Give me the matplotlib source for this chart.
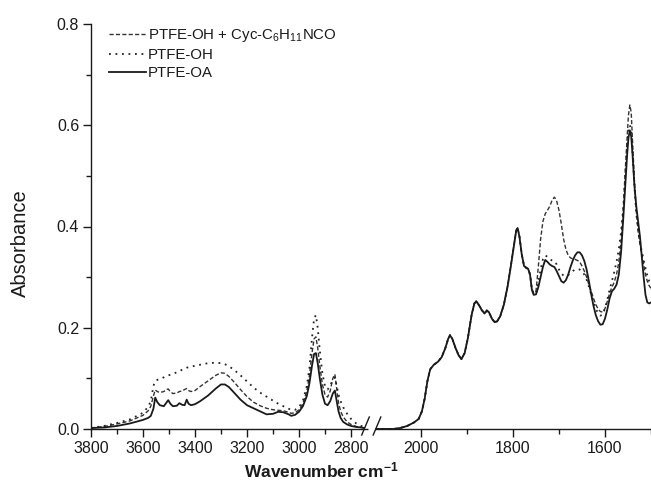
import numpy as np
import matplotlib
matplotlib.use("Agg")
import matplotlib.pyplot as plt
from matplotlib.ticker import FixedLocator, FixedFormatter

plt.rcParams['font.family'] = ['Liberation Sans', 'DejaVu Sans']
plt.rcParams['mathtext.fontset'] = 'custom'
plt.rcParams['mathtext.rm'] = 'Liberation Sans'
plt.rcParams['mathtext.it'] = 'Liberation Sans:italic'
plt.rcParams['mathtext.bf'] = 'Liberation Sans:bold'

# ---------------- data ----------------
series_labels = ["PTFE-OH + Cyc-C$_{\\mathregular{6}}$H$_{\\mathregular{11}}$NCO", "PTFE-OH", "PTFE-OA"]

wn_left = [3800, 3750, 3700, 3650, 3600, 3580, 3570, 3560, 3553, 3545, 3535, 3520, 3510, 3503,
           3495, 3485, 3470, 3460, 3450, 3440, 3432, 3425, 3415, 3400, 3380, 3350, 3320, 3300,
           3285, 3270, 3250, 3225, 3200, 3175, 3150, 3125, 3100, 3080, 3060, 3040, 3030, 3015,
           3000, 2985, 2970, 2960, 2950, 2942, 2935, 2928, 2920, 2910, 2900, 2890, 2880, 2870,
           2862, 2855, 2848, 2840, 2830, 2815, 2800, 2780, 2760, 2745]

oa_left = [0.002, 0.003, 0.006, 0.011, 0.018, 0.022, 0.026, 0.040, 0.062, 0.053, 0.047, 0.045, 0.052, 0.057,
           0.050, 0.045, 0.046, 0.051, 0.048, 0.047, 0.058, 0.050, 0.047, 0.049, 0.055, 0.066, 0.080, 0.088,
           0.088, 0.083, 0.072, 0.058, 0.047, 0.041, 0.035, 0.029, 0.030, 0.034, 0.033, 0.029, 0.026, 0.028,
           0.034, 0.045, 0.065, 0.090, 0.125, 0.148, 0.150, 0.130, 0.100, 0.068, 0.050, 0.047, 0.055, 0.070,
           0.076, 0.055, 0.035, 0.022, 0.014, 0.009, 0.006, 0.004, 0.003, 0.002]

cyc_left = [0.002, 0.005, 0.010, 0.016, 0.027, 0.036, 0.045, 0.065, 0.077, 0.074, 0.072, 0.074, 0.078, 0.079,
            0.074, 0.070, 0.071, 0.074, 0.075, 0.078, 0.080, 0.076, 0.074, 0.076, 0.084, 0.095, 0.106, 0.111,
            0.110, 0.104, 0.093, 0.078, 0.064, 0.053, 0.046, 0.041, 0.038, 0.037, 0.036, 0.033, 0.031, 0.032,
            0.038, 0.050, 0.075, 0.105, 0.150, 0.178, 0.182, 0.160, 0.125, 0.088, 0.068, 0.063, 0.075, 0.100,
            0.108, 0.080, 0.052, 0.035, 0.024, 0.014, 0.009, 0.005, 0.003, 0.002]

oh_left = [0.002, 0.006, 0.012, 0.019, 0.032, 0.044, 0.055, 0.085, 0.095, 0.097, 0.099, 0.102, 0.105, 0.106,
           0.107, 0.109, 0.112, 0.114, 0.117, 0.119, 0.121, 0.122, 0.123, 0.125, 0.127, 0.130, 0.131, 0.130,
           0.128, 0.124, 0.117, 0.106, 0.094, 0.082, 0.072, 0.064, 0.056, 0.050, 0.045, 0.040, 0.038, 0.038,
           0.043, 0.056, 0.085, 0.120, 0.180, 0.218, 0.225, 0.200, 0.155, 0.110, 0.085, 0.078, 0.085, 0.098,
           0.102, 0.085, 0.068, 0.055, 0.043, 0.030, 0.020, 0.011, 0.006, 0.004]

wn_right = [2100, 2060, 2045, 2030, 2015, 2005, 1998, 1992, 1986, 1980, 1972, 1963, 1955, 1947, 1941,
            1937, 1932, 1925, 1918, 1912, 1905, 1898, 1890, 1884, 1880, 1875, 1868, 1862, 1857, 1852,
            1846, 1840, 1835, 1828, 1820, 1812, 1805, 1798, 1793, 1790, 1786, 1781, 1776, 1771, 1767,
            1763, 1759, 1755, 1750, 1745, 1740, 1735, 1730, 1725, 1720, 1715, 1710, 1705, 1700, 1695,
            1690, 1685, 1680, 1675, 1670, 1665, 1660, 1655, 1650, 1645, 1640, 1635, 1630, 1625, 1620,
            1615, 1610, 1605, 1600, 1595, 1590, 1585, 1580, 1575, 1570, 1565, 1560, 1556, 1552, 1549,
            1546, 1543, 1540, 1536, 1532, 1528, 1524, 1520, 1516, 1512, 1508, 1504, 1500]

oa_right = [0.000, 0.000, 0.002, 0.006, 0.013, 0.020, 0.035, 0.060, 0.095, 0.118, 0.127, 0.133, 0.142, 0.160, 0.178,
            0.185, 0.178, 0.160, 0.145, 0.138, 0.150, 0.180, 0.225, 0.248, 0.252, 0.246, 0.235, 0.228, 0.234, 0.230,
            0.218, 0.211, 0.212, 0.222, 0.245, 0.280, 0.320, 0.362, 0.392, 0.397, 0.380, 0.345, 0.322, 0.318, 0.316,
            0.305, 0.275, 0.265, 0.266, 0.280, 0.300, 0.320, 0.334, 0.330, 0.325, 0.322, 0.320, 0.312, 0.302, 0.292,
            0.289, 0.294, 0.305, 0.320, 0.333, 0.343, 0.349, 0.349, 0.343, 0.332, 0.315, 0.292, 0.266, 0.243, 0.225,
            0.213, 0.206, 0.207, 0.218, 0.236, 0.258, 0.272, 0.277, 0.285, 0.305, 0.350, 0.420, 0.480, 0.540, 0.575,
            0.590, 0.578, 0.540, 0.480, 0.440, 0.410, 0.380, 0.340, 0.300, 0.265, 0.250, 0.248, 0.250]

cyc_right = [0.000, 0.000, 0.002, 0.006, 0.013, 0.020, 0.035, 0.060, 0.095, 0.118, 0.127, 0.133, 0.142, 0.160, 0.178,
             0.186, 0.179, 0.161, 0.146, 0.139, 0.151, 0.181, 0.226, 0.249, 0.253, 0.247, 0.236, 0.229, 0.235, 0.231,
             0.219, 0.212, 0.213, 0.223, 0.246, 0.281, 0.321, 0.363, 0.393, 0.398, 0.381, 0.346, 0.323, 0.319, 0.317,
             0.306, 0.278, 0.268, 0.272, 0.320, 0.375, 0.410, 0.425, 0.432, 0.440, 0.452, 0.458, 0.450, 0.432, 0.405,
             0.375, 0.355, 0.343, 0.338, 0.336, 0.335, 0.333, 0.330, 0.322, 0.312, 0.300, 0.285, 0.272, 0.258, 0.246,
             0.237, 0.232, 0.231, 0.238, 0.252, 0.268, 0.280, 0.290, 0.305, 0.330, 0.372, 0.440, 0.510, 0.575, 0.620,
             0.640, 0.625, 0.565, 0.490, 0.430, 0.390, 0.365, 0.345, 0.325, 0.305, 0.292, 0.283, 0.278]

oh_right = [0.000, 0.000, 0.002, 0.006, 0.013, 0.020, 0.035, 0.060, 0.095, 0.118, 0.127, 0.133, 0.142, 0.160, 0.178,
            0.185, 0.178, 0.160, 0.145, 0.138, 0.150, 0.180, 0.225, 0.248, 0.252, 0.246, 0.235, 0.228, 0.234, 0.230,
            0.218, 0.211, 0.212, 0.222, 0.245, 0.280, 0.320, 0.362, 0.392, 0.397, 0.380, 0.345, 0.322, 0.318, 0.316,
            0.305, 0.276, 0.266, 0.268, 0.290, 0.315, 0.335, 0.343, 0.340, 0.335, 0.333, 0.332, 0.325, 0.315, 0.307,
            0.303, 0.302, 0.304, 0.308, 0.312, 0.315, 0.316, 0.315, 0.312, 0.305, 0.295, 0.281, 0.266, 0.251, 0.238,
            0.228, 0.224, 0.226, 0.238, 0.256, 0.275, 0.292, 0.310, 0.330, 0.355, 0.390, 0.440, 0.500, 0.555, 0.590,
            0.600, 0.590, 0.545, 0.480, 0.425, 0.395, 0.370, 0.350, 0.335, 0.318, 0.303, 0.292, 0.285]

x_major = [3800, 3600, 3400, 3200, 3000, 2800, 2000, 1800, 1600]
x_minor = [3700, 3500, 3300, 3100, 2900, 1900, 1700, 1500]
y_major = [0.0, 0.2, 0.4, 0.6, 0.8]
y_minor = [0.1, 0.3, 0.5, 0.7]

# ---------------- broken x scale (increasing in wavenumber) ----------------
_w = np.array([1500.0, 2100.0, 2750.0, 3800.0])
_v = np.array([0.0, 276.0, 287.0, 560.0])

def fwd(w):
    return np.interp(np.asarray(w, dtype=float), _w, _v)

def inv(v):
    return np.interp(np.asarray(v, dtype=float), _v, _w)

W, H = 651, 495
fig = plt.figure(figsize=(W / 100, H / 100), dpi=100)
ax = fig.add_axes([91 / W, 1 - 429 / H, 560 / W, 405 / H])
ax.set_xscale('function', functions=(fwd, inv))

ink = '#1a1a1a'
styles = [dict(color='#333333', lw=1.0, ls=(0, (3.0, 1.6))),
          dict(color='#222222', lw=1.3, ls=(0, (1.0, 2.6))),
          dict(color=ink, lw=1.3, ls='-')]
lefts = [cyc_left, oh_left, oa_left]
rights = [cyc_right, oh_right, oa_right]
handles = []
for lab, st, yl, yr in zip(series_labels, styles, lefts, rights):
    h, = ax.plot(wn_left, yl, label=lab, **st)
    ax.plot(wn_right, yr, **st)
    handles.append(h)

ax.set_xlim(3800, 1500)
ax.set_ylim(0, 0.8)

ax.xaxis.set_major_locator(FixedLocator(x_major))
ax.xaxis.set_major_formatter(FixedFormatter([str(v) for v in x_major]))
ax.xaxis.set_minor_locator(FixedLocator(x_minor))
ax.yaxis.set_major_locator(FixedLocator(y_major))
ax.yaxis.set_major_formatter(FixedFormatter([f"{v:.1f}" for v in y_major]))
ax.yaxis.set_minor_locator(FixedLocator(y_minor))

ax.tick_params(which='major', direction='out', length=5.5, width=1.0, color=ink,
               labelsize=11.5, labelcolor=ink, pad=3)
ax.tick_params(which='minor', direction='out', length=3.5, width=1.0, color=ink)
ax.spines['top'].set_visible(False)
ax.spines['right'].set_visible(False)
for s in ('left', 'bottom'):
    ax.spines[s].set_color(ink)
    ax.spines[s].set_linewidth(1.0)

# axis break marks
bx1, bx2 = (365.5 - 91) / 560, (377.0 - 91) / 560
ax.plot([bx1 + 0.004, bx2 - 0.004], [0, 0], transform=ax.transAxes, color='white',
        lw=2.5, clip_on=False, zorder=5, solid_capstyle='butt')
ddx, ddy, yc = 3.8 / 560, 9.0 / 405, 3.0 / 405
for bx in (bx1, bx2):
    ax.plot([bx - ddx, bx + ddx], [yc - ddy, yc + ddy], transform=ax.transAxes,
            color=ink, lw=1.0, clip_on=False, zorder=6)

leg = ax.legend(handles=handles, loc='upper left', bbox_to_anchor=(0.032, 0.993),
                frameon=False, fontsize=10.8, handlelength=2.5, handletextpad=0.12,
                labelspacing=0.28, borderpad=0, borderaxespad=0)
for t in leg.get_texts():
    t.set_color(ink)

fig.text(20 / W, 1 - 243 / H, 'Absorbance', rotation=90, ha='center', va='center',
         fontsize=14.5, color=ink)
fig.text(321 / W, 1 - 470 / H, 'Wavenumber cm$^{\\mathregular{-1}}$', ha='center', va='center',
         fontsize=12.5, fontweight='bold', color=ink)

fig.savefig('out.png', dpi=100)
